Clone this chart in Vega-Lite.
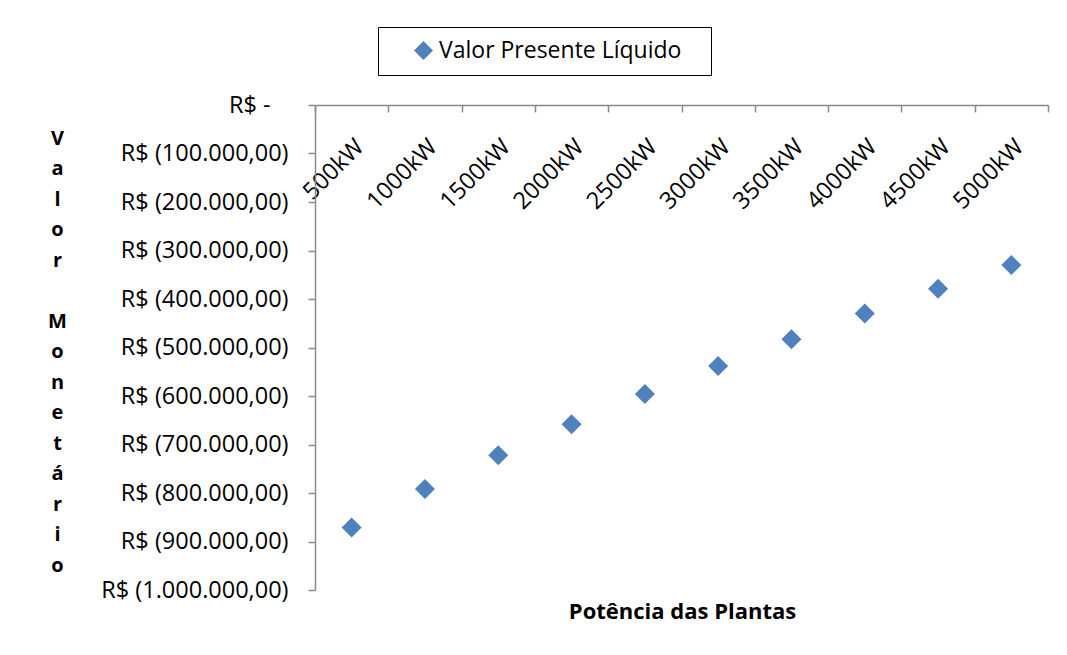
{
  "$schema": "https://vega.github.io/schema/vega-lite/v6.json",
  "width": 733,
  "height": 485,
  "autosize": {"type": "none"},
  "padding": {"left": 315, "top": 105, "right": 19, "bottom": 65},
  "background": "white",
  "config": {"view": {"stroke": null}, "font": "Open Sans"},
  "data": {
    "values": [
      {"potencia": "500kW", "vpl": -871000, "serie": "Valor Presente Líquido"},
      {"potencia": "1000kW", "vpl": -792000, "serie": "Valor Presente Líquido"},
      {"potencia": "1500kW", "vpl": -722000, "serie": "Valor Presente Líquido"},
      {"potencia": "2000kW", "vpl": -658000, "serie": "Valor Presente Líquido"},
      {"potencia": "2500kW", "vpl": -596000, "serie": "Valor Presente Líquido"},
      {"potencia": "3000kW", "vpl": -538000, "serie": "Valor Presente Líquido"},
      {"potencia": "3500kW", "vpl": -483000, "serie": "Valor Presente Líquido"},
      {"potencia": "4000kW", "vpl": -430000, "serie": "Valor Presente Líquido"},
      {"potencia": "4500kW", "vpl": -379000, "serie": "Valor Presente Líquido"},
      {"potencia": "5000kW", "vpl": -330000, "serie": "Valor Presente Líquido"}
    ]
  },
  "mark": {"type": "point", "shape": "diamond", "filled": true, "size": 400, "opacity": 1},
  "encoding": {
    "x": {
      "field": "potencia",
      "type": "ordinal",
      "sort": null,
      "scale": {"type": "band", "paddingInner": 0, "paddingOuter": 0},
      "axis": {
        "orient": "bottom",
        "offset": -485,
        "tickBand": "extent",
        "tickSize": 7,
        "tickColor": "#898989",
        "tickWidth": 1.5,
        "domainColor": "#898989",
        "domainWidth": 1.5,
        "grid": false,
        "labelAngle": -45,
        "labelAlign": "right",
        "labelBaseline": "middle",
        "labelPadding": 31,
        "labelOffset": 8,
        "labelFontSize": 23.5,
        "labelColor": "black",
        "labelOverlap": false,
        "labelBound": false,
        "title": "Potência das Plantas",
        "titleX": 367,
        "titleY": 506,
        "titleAlign": "center",
        "titleBaseline": "middle",
        "titleFontSize": 22,
        "titleFontWeight": "bold",
        "titleColor": "black"
      }
    },
    "y": {
      "field": "vpl",
      "type": "quantitative",
      "scale": {"domain": [-1000000, 0], "nice": false},
      "axis": {
        "values": [0, -100000, -200000, -300000, -400000, -500000, -600000, -700000, -800000, -900000, -1000000],
        "tickSize": 7,
        "tickColor": "#898989",
        "tickWidth": 1.5,
        "domainColor": "#898989",
        "domainWidth": 1.5,
        "grid": false,
        "labelPadding": 20,
        "labelFontSize": 23.5,
        "labelColor": "black",
        "labelOverlap": false,
        "labelLimit": 300,
        "labelExpr": "datum.value == 0 ? 'R$ -\u2800' : 'R$ (' + replace(replace(replace(format(-datum.value, ',.2f'), regexp(',', 'g'), '#'), regexp('[.]', 'g'), ','), regexp('#', 'g'), '.') + ')'",
        "title": ["V", "a", "l", "o", "r", "\u2800", "M", "o", "n", "e", "t", "á", "r", "i", "o"],
        "titleAngle": 0,
        "titleX": -258,
        "titleY": 33,
        "titleAlign": "center",
        "titleBaseline": "middle",
        "titleFontSize": 20,
        "titleFontWeight": "bold",
        "titleLineHeight": 30.5,
        "titleColor": "black"
      }
    },
    "color": {
      "field": "serie",
      "type": "nominal",
      "scale": {"range": ["#4F81BD"]},
      "legend": {
        "orient": "none",
        "legendX": 63,
        "legendY": -78,
        "title": null,
        "strokeColor": "black",
        "fillColor": "white",
        "padding": 12,
        "symbolType": "diamond",
        "symbolSize": 360,
        "symbolOffset": 22,
        "labelOffset": 4,
        "labelFontSize": 23,
        "labelLimit": 400,
        "labelExpr": "datum.label + '\u2800'",
        "labelColor": "black"
      }
    }
  }
}
